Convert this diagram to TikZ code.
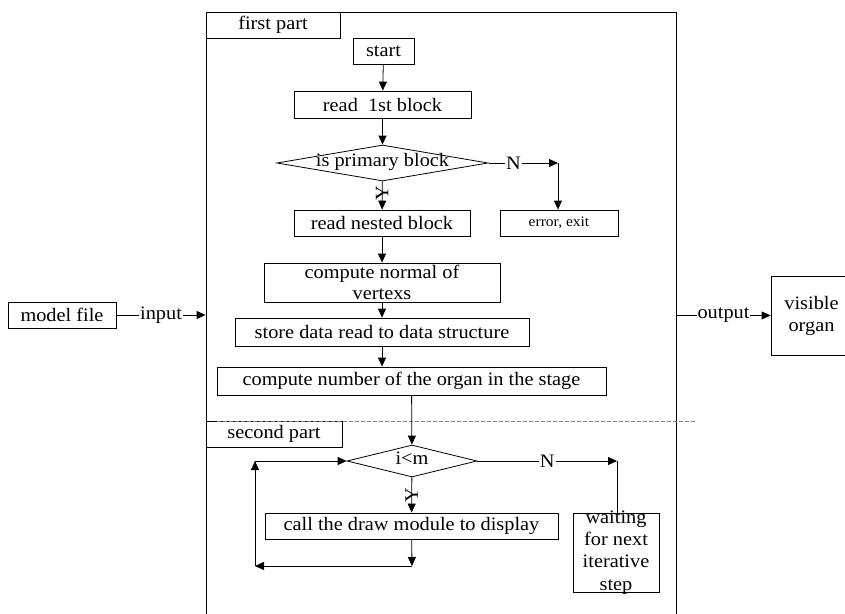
\documentclass[tikz,border=0pt]{standalone}
\usepackage{fontspec}
\setmainfont{Liberation Serif}[FakeStretch=1.07]
\usetikzlibrary{shapes.geometric,arrows.meta}

\begin{document}
\begin{tikzpicture}[x=1pt,y=-1pt,
	font=\fontsize{19}{22}\selectfont,
	box/.style={draw,line width=0.8pt,inner sep=0pt,align=center},
	decision/.style={draw,line width=0.8pt,diamond,inner sep=0pt,
		shape aspect=7.8,text height=8pt,text depth=2pt},
	arr/.style={line width=0.8pt,-{Triangle[length=9pt,width=8pt]}},
	lbl/.style={fill=white,inner sep=1pt},
	yes/.style={rotate=90,inner sep=0pt}]

	\useasboundingbox (0,0) rectangle (845,613);

	% frame round both parts
	\node[draw,line width=0.8pt,minimum width=470pt,minimum height=640pt,inner sep=0pt]
		(frame) at (441,332) {};

	% part titles
	\node[box,minimum width=134pt,minimum height=26pt] (first) at (273,25) {first part};
	\node[box,minimum width=136pt,minimum height=26pt] (second) at (274,434) {second part};

	% separator between the parts
	\draw[gray,line width=0.8pt,dash pattern=on 4pt off 2pt] (217,421) -- (697,421);

	% first part
	\node[box,minimum width=61pt,minimum height=26pt] (start) at (383.5,51) {start};
	\node[box,minimum width=177pt,minimum height=27pt] (read) at (382.5,104.5) {read\ \ 1st block};
	\node[decision,minimum width=211pt,minimum height=36pt] (primary) at (382.5,163) {is primary block};
	\node[box,minimum width=176pt,minimum height=26pt] (nested) at (382,223) {read nested block};
	\node[box,minimum width=118pt,minimum height=26pt,font=\fontsize{14.5}{16}\selectfont]
		(error) at (559,223) {error, exit};
	\node[box,minimum width=236pt,minimum height=39pt,inner ysep=-2pt,font=\fontsize{19}{21}\selectfont]
		(normal) at (382,282.5) {compute normal of\\vertexs};
	\node[box,minimum width=294pt,minimum height=28pt] (store) at (382,332) {store data read to data structure};
	\node[box,minimum width=389pt,minimum height=28pt] (number) at (411.5,381) {compute number of the organ in the stage};

	% second part
	\node[decision,minimum width=130pt,minimum height=32pt] (loop) at (412,461) {i<m};
	\node[box,minimum width=293pt,minimum height=26pt] (call) at (411.5,526) {call the draw module to display};
	\node[box,minimum width=86pt,minimum height=79pt,inner ysep=-6pt,font=\fontsize{19}{22.3}\selectfont]
		(waiting) at (616,552.5) {waiting\\for next\\iterative\\step};

	% input and output
	\node[box,minimum width=108pt,minimum height=26pt] (model) at (62,315) {model file};
	\node[box,minimum width=81pt,minimum height=79pt] (visible) at (811.5,315.5) {visible\\organ};

	% corners of the bent connectors
	\coordinate (ncorner) at (558,163);
	\coordinate (wcorner) at (617,461);
	\coordinate (cbot) at (412,566);
	\coordinate (lbot) at (255,566);
	\coordinate (ltop) at (255,461);

	% flow of the first part
	\draw[arr] (start) -- (read);
	\draw[arr] (read) -- (primary);
	\draw[arr] (primary) -- node[yes,pos=0.4] {Y} (nested);
	\draw[arr] (primary.east) -- node[lbl,pos=0.36] {N} (ncorner);
	\draw[arr] (ncorner) -- (error.north -| ncorner);
	\draw[arr] (nested) -- (normal);
	\draw[arr] (normal) -- (store);
	\draw[arr] (store.south) -- (store.south |- number.north);
	\draw[arr] (number) -- (loop);

	% flow of the second part
	\draw[arr] (loop) -- node[yes] {Y} (call);
	\draw[arr] (loop.east) -- node[lbl] {N} (wcorner);
	\draw[line width=0.8pt] (waiting.north -| wcorner) -- (wcorner);
	\draw[arr] (call) -- (cbot);
	\draw[arr] (cbot) -- (lbot);
	\draw[arr] (lbot) -- (ltop);
	\draw[arr] (ltop) -- (loop.west);

	% in and out of the frame
	\draw[arr] (model) -- node[lbl] {input} (model -| frame.west);
	\draw[arr] (visible -| frame.east) -- node[lbl] {output} (visible);

\end{tikzpicture}
\end{document}
